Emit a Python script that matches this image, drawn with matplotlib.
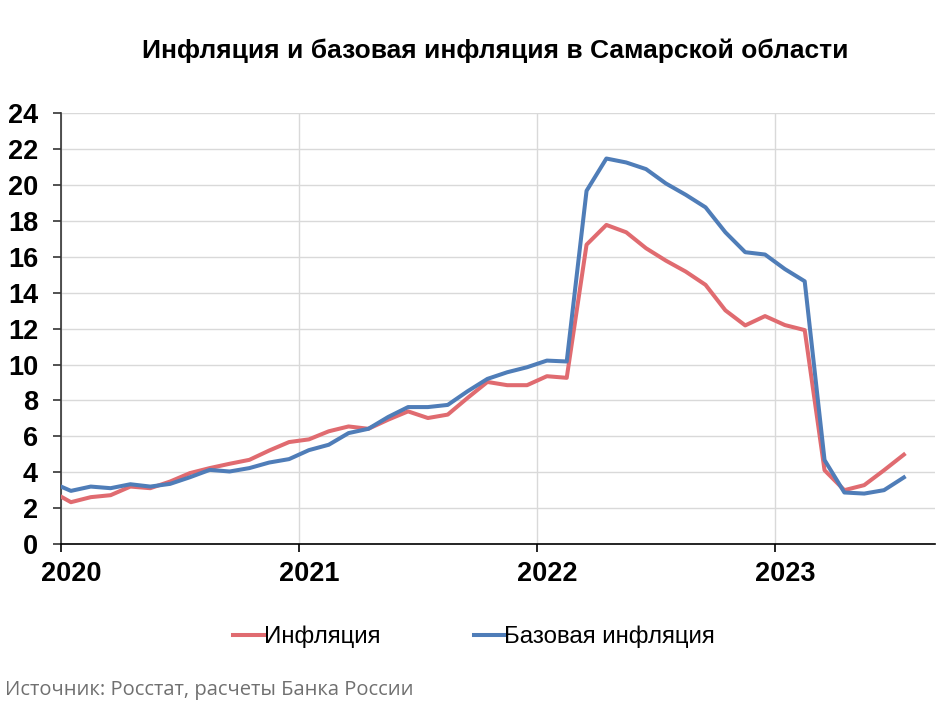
import matplotlib
matplotlib.use("Agg")
import matplotlib.pyplot as plt
import numpy as np
import pandas as pd

# ---- data ----
months = pd.period_range("2019-12", "2023-07", freq="M")
inflation = [2.95,
             2.33, 2.61, 2.72, 3.20, 3.11, 3.48, 3.95, 4.23, 4.47, 4.69, 5.21, 5.68,
             5.83, 6.28, 6.55, 6.42, 6.93, 7.39, 7.02, 7.21, 8.14, 9.03, 8.85, 8.85,
             9.35, 9.26, 16.68, 17.78, 17.37, 16.48, 15.79, 15.18, 14.44, 13.02, 12.18, 12.70,
             12.20, 11.92, 4.11, 3.00, 3.28, 4.11, 4.98]
core_inflation = [3.44,
                  2.96, 3.20, 3.11, 3.33, 3.20, 3.35, 3.72, 4.13, 4.04, 4.23, 4.54, 4.73,
                  5.23, 5.53, 6.18, 6.42, 7.08, 7.63, 7.63, 7.75, 8.51, 9.20, 9.57, 9.85,
                  10.22, 10.17, 19.68, 21.48, 21.26, 20.89, 20.09, 19.46, 18.76, 17.37, 16.26, 16.13,
                  15.32, 14.64, 4.68, 2.87, 2.81, 3.00, 3.71]
years = [2020, 2021, 2022, 2023]
yticks = list(range(0, 25, 2))
labels = ["Инфляция", "Базовая инфляция"]
title = "Инфляция и базовая инфляция в Самарской области"
source = "Источник: Росстат, расчеты Банка России"

plt.rcParams['font.family'] = ['Liberation Sans', 'DejaVu Sans']

# month position: months since Jan 2020, placed mid-month
x = np.array([(p.year - 2020) * 12 + (p.month - 1) + 0.5 for p in months])

fig = plt.figure(figsize=(9.5, 7.12), dpi=100)
ax = fig.add_axes([61/950, 1 - 544/712, 874/950, (544 - 113.3)/712])

red = "#E06B70"
blue = "#4F7DB8"
l1, = ax.plot(x, inflation, color=red, lw=2.9, solid_joinstyle="round", zorder=3)
l2, = ax.plot(x, core_inflation, color=blue, lw=2.9, solid_joinstyle="round", zorder=4)

ax.set_xlim(0, 44.07)
ax.set_ylim(0, 24)
ax.set_yticks(yticks)
ax.set_yticklabels([str(v) for v in yticks], fontsize=19.5, fontweight="bold")

year_pos = [(y - 2020) * 12 for y in years]
ax.set_xticks(year_pos)
ax.set_xticklabels([""] * len(years))
ax.set_xticks([p + 0.5 for p in year_pos], minor=True)
ax.set_xticklabels([str(y) for y in years], minor=True, fontsize=19.5, fontweight="bold")
ax.tick_params(axis="x", which="minor", length=0, pad=12)
ax.tick_params(axis="x", which="major", length=6, width=1.2, color="black", direction="out")
ax.tick_params(axis="y", length=5.5, width=1.2, color="#333333", pad=11)

ax.grid(True, axis="both", which="major", color="#D9D9D9", lw=1.0)
ax.set_axisbelow(True)
for s in ["top", "right"]:
    ax.spines[s].set_visible(False)
ax.spines["left"].set_color("#333333")
ax.spines["left"].set_linewidth(1.2)
ax.spines["bottom"].set_color("black")
ax.spines["bottom"].set_linewidth(1.2)

fig.text(495.5/950, 1 - 51/712, title, ha="center", va="center",
         fontsize=19, fontweight="bold")

leg = fig.legend([l1, l2], labels, loc="center", bbox_to_anchor=(474/950, 1 - 637/712),
                 ncol=2, frameon=False, fontsize=17.3, handlelength=1.25,
                 handletextpad=0.0, columnspacing=3.9)

fig.text(5/950, 1 - 690/712, source, ha="left", va="center",
         fontsize=14.5, color="#707070", family=["Open Sans", "DejaVu Sans"])

fig.savefig("out.png", dpi=100)
